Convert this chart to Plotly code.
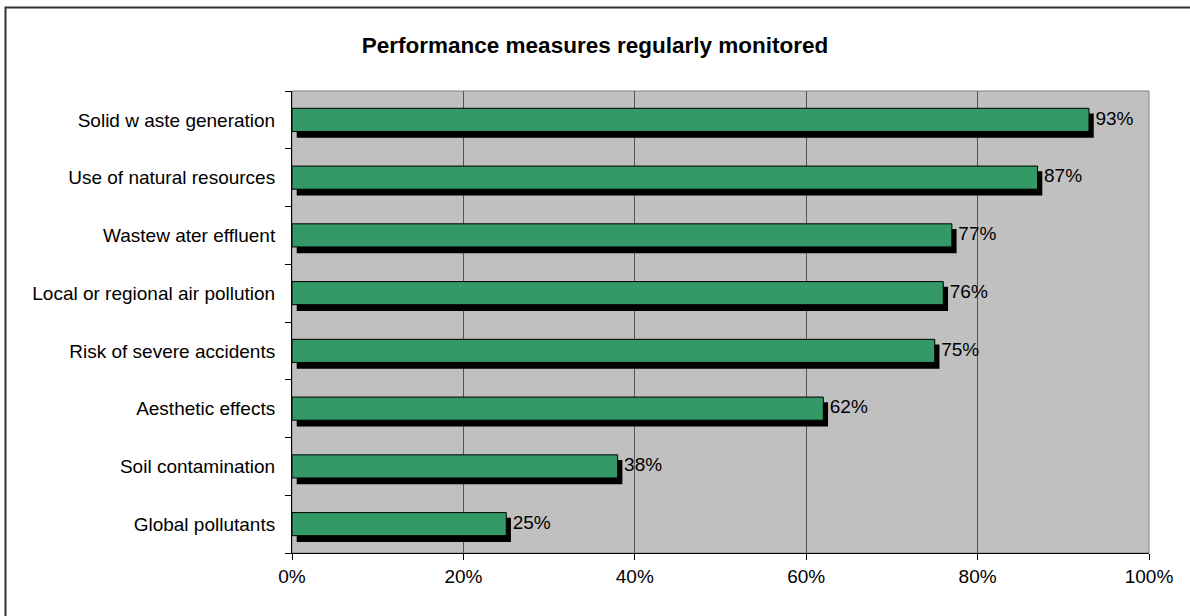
import plotly.graph_objects as go

# Survey results: share of firms regularly monitoring each measure (%)
categories = [
    "Solid w aste generation",
    "Use of natural resources",
    "Wastew ater effluent",
    "Local or regional air pollution",
    "Risk of severe accidents",
    "Aesthetic effects",
    "Soil contamination",
    "Global pollutants",
]
values = [93, 87, 77, 76, 75, 62, 38, 25]
x_ticks = [0, 20, 40, 60, 80, 100]

FONT = "Liberation Sans, Arial, sans-serif"
BAR_GREEN = "#339966"
PLOT_GREY = "#C0C0C0"

n = len(categories)
# top category first: numeric band positions from n-1 down to 0
ypos = [n - 1 - i for i in range(n)]

shadow_dx = 0.55  # shadow shift to the right, in % units
shadow_dy = 0.1   # shadow shift downwards, in band units

fig = go.Figure()

# drop shadow under each bar
fig.add_trace(go.Bar(
    y=[p - shadow_dy for p in ypos],
    x=values,
    base=shadow_dx,
    orientation="h",
    width=0.42,
    marker=dict(color="black", line=dict(width=0)),
    hoverinfo="skip",
    showlegend=False,
))

# main bars
fig.add_trace(go.Bar(
    y=ypos,
    x=values,
    orientation="h",
    width=0.40,
    marker=dict(color=BAR_GREEN, line=dict(color="black", width=1)),
    showlegend=False,
))

# value labels just past the shadow
fig.add_trace(go.Scatter(
    y=ypos,
    x=[v + shadow_dx + 0.2 for v in values],
    mode="text",
    text=[f"{v}%" for v in values],
    textposition="middle right",
    textfont=dict(family=FONT, size=19, color="black"),
    hoverinfo="skip",
    showlegend=False,
))

fig.update_layout(
    width=1190,
    height=616,
    margin=dict(l=292, r=41, t=91, b=63),
    paper_bgcolor="white",
    plot_bgcolor=PLOT_GREY,
    barmode="overlay",
    title=dict(
        text="<b>Performance measures regularly monitored</b>",
        x=0.5, xref="container", xanchor="center",
        y=1 - 45 / 616, yref="container", yanchor="middle",
        font=dict(family=FONT, size=22.5, color="black"),
    ),
    font=dict(family=FONT, size=19, color="black"),
    xaxis=dict(
        range=[0, 100],
        tickmode="array",
        tickvals=x_ticks,
        ticktext=[f"{t}%" for t in x_ticks],
        ticks="outside",
        ticklen=6,
        tickcolor="black",
        showgrid=True,
        gridcolor="#555555",
        gridwidth=1,
        showline=True,
        linecolor="black",
        linewidth=1,
        zeroline=False,
        tickfont=dict(family=FONT, size=19, color="black"),
        fixedrange=True,
    ),
    yaxis=dict(
        range=[-0.5, n - 0.5],
        tickmode="array",
        tickvals=ypos,
        ticktext=categories,
        ticks="",
        ticklabelstandoff=12,
        minor=dict(
            tickmode="array",
            tickvals=[k - 0.5 for k in range(n + 1)],
            ticks="outside",
            ticklen=6,
            tickcolor="black",
            showgrid=False,
        ),
        showgrid=False,
        showline=True,
        linecolor="black",
        linewidth=1,
        zeroline=False,
        tickfont=dict(family=FONT, size=19, color="black"),
        fixedrange=True,
    ),
    shapes=[
        # grey frame on the top and right of the plot area
        dict(type="rect", xref="paper", yref="paper", x0=0, x1=1, y0=0, y1=1,
             line=dict(color="#808080", width=1), fillcolor="rgba(0,0,0,0)",
             layer="between"),
        # outer chart border
        dict(type="rect", xref="paper", yref="paper",
             x0=(5.5 - 292) / 857, x1=(1200 - 292) / 857,
             y0=(553 - 630) / 462, y1=(553 - 7.5) / 462,
             line=dict(color="#333333", width=2), fillcolor="rgba(0,0,0,0)",
             layer="above"),
    ],
)

fig.write_html("out.html")
